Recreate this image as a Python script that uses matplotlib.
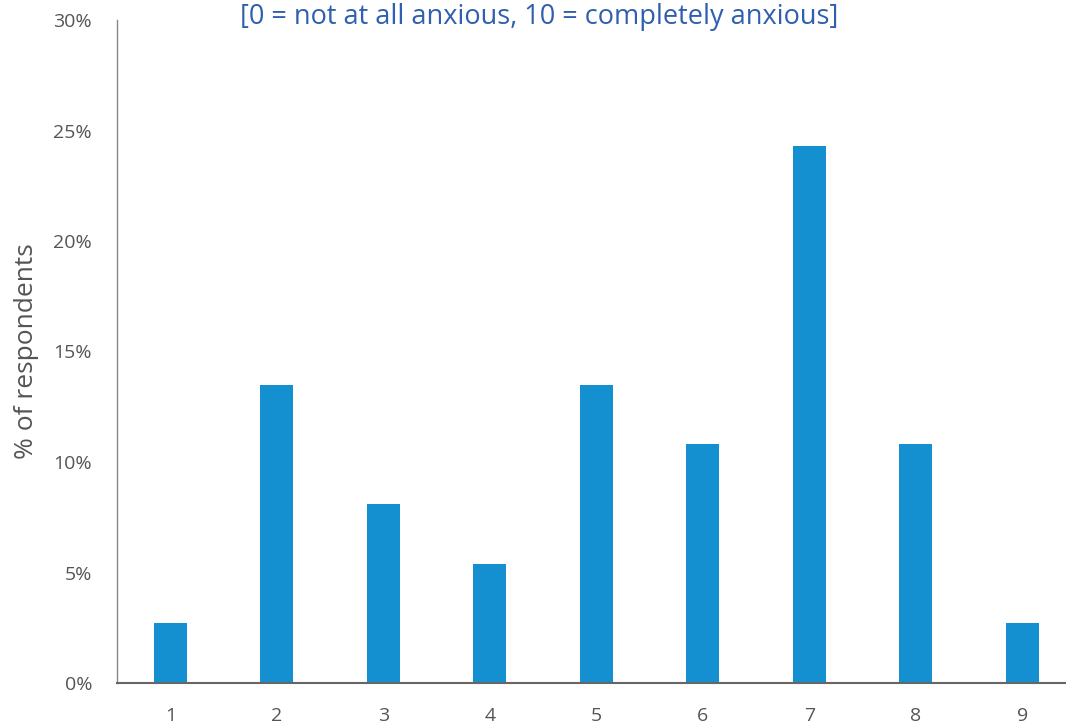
import matplotlib
matplotlib.use("Agg")
import matplotlib.pyplot as plt
from matplotlib.ticker import PercentFormatter

categories = ["1", "2", "3", "4", "5", "6", "7", "8", "9"]
values = [2.7, 13.5, 8.1, 5.4, 13.5, 10.8, 24.3, 10.8, 2.7]
yticks = [0, 5, 10, 15, 20, 25, 30]
title = "[0 = not at all anxious, 10 = completely anxious]"

plt.rcParams['font.family'] = ['Open Sans', 'DejaVu Sans']

fig = plt.figure(figsize=(10.66, 7.26), dpi=100)
ax = fig.add_axes([117/1066, 43/726, 949/1066, 663/726])

x = list(range(1, len(categories) + 1))
ax.bar(x, values, width=0.31, color="#1490d0", zorder=2)

ax.set_xlim(0.5, 9.41)
ax.set_ylim(0, 30)
ax.set_xticks(x)
ax.set_xticklabels(categories)
ax.set_yticks(yticks)
ax.yaxis.set_major_formatter(PercentFormatter(decimals=0))

for s in ["top", "right"]:
    ax.spines[s].set_visible(False)
ax.spines["left"].set_color("#888888")
ax.spines["left"].set_linewidth(1.0)
ax.spines["bottom"].set_color("#666666")
ax.spines["bottom"].set_linewidth(1.5)
ax.tick_params(axis="both", length=0, labelsize=14, colors="#555555")
ax.tick_params(axis="y", pad=18)
ax.tick_params(axis="x", pad=17)

fig.text(27/1066, 1 - 351/726, "% of respondents", rotation=90,
         ha="center", va="center", fontsize=19, color="#555555")

fig.text(539/1066, 1 - 17/726, title, ha="center", va="center",
         fontsize=19.5, color="#2f5fae")

fig.savefig("out.png", dpi=100)
